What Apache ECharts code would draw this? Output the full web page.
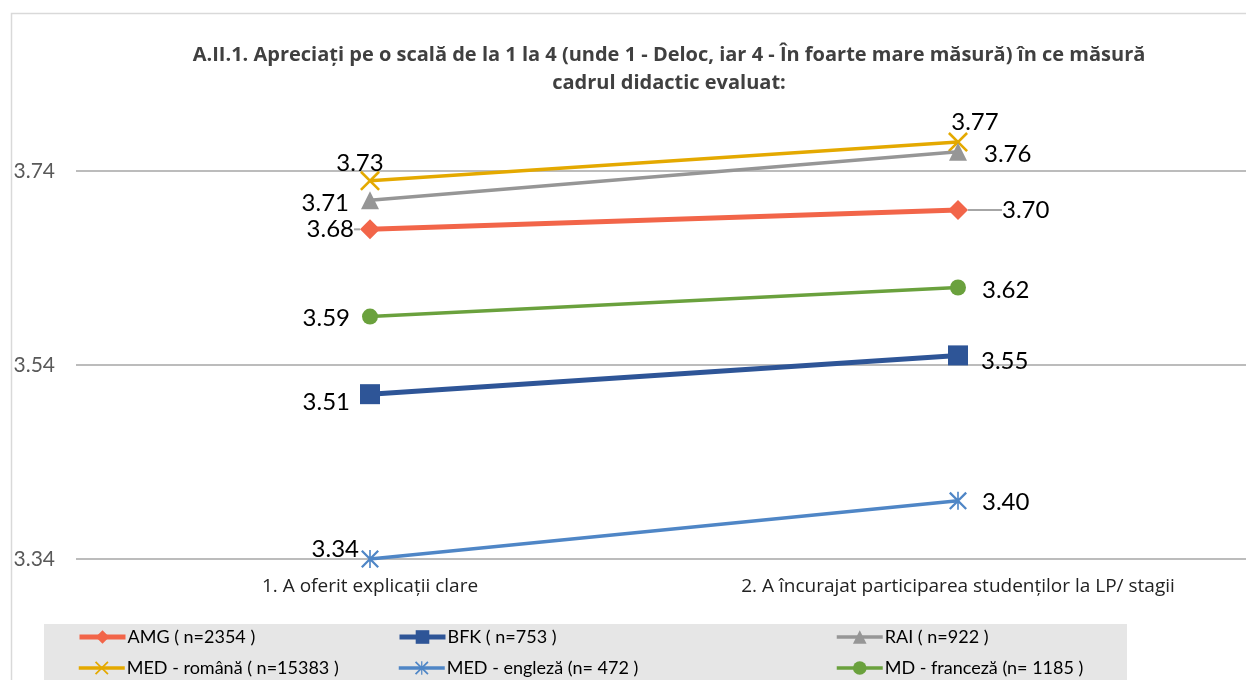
<!DOCTYPE html>
<html>
<head>
<meta charset="utf-8">
<script src="https://cdn.jsdelivr.net/npm/echarts@6/dist/echarts.min.js"></script>
<style>
  html, body { margin: 0; padding: 0; background: #fff; }
  #chart { width: 1246px; height: 680px; }
</style>
</head>
<body>
<div id="chart"></div>
<script>
// categories / values
var categories = ["1. A oferit explicații clare", "2. A încurajat participarea studenților la LP/ stagii"];
var seriesNames = ["AMG ( n=2354 )", "BFK ( n=753 )", "RAI ( n=922 )",
  "MED - română ( n=15383 )", "MED - engleză (n= 472 )", "MD - franceză (n= 1185 )"];
var amgValues = [3.68, 3.70];
var bfkValues = [3.51, 3.55];
var raiValues = [3.71, 3.76];
var medRoValues = [3.73, 3.77];
var medEnValues = [3.34, 3.40];
var mdFrValues = [3.59, 3.62];
var yTicks = [3.34, 3.54, 3.74];

var FONT = "Lato";
var X_PATH = "path://M0,0.9 L0.9,0 L10,9.1 L9.1,10 Z M9.1,0 L10,0.9 L0.9,10 L0,9.1 Z";
var STAR_PATH = "path://M0,0.9 L0.9,0 L10,9.1 L9.1,10 Z M9.1,0 L10,0.9 L0.9,10 L0,9.1 Z M4.55,0 L5.45,0 L5.45,10 L4.55,10 Z";

//label placement for each point (left point, right point)
function lbl(pos, offset, dist) {
  return { position: pos, offset: offset || [0, 0], distance: dist == null ? 5 : dist };
}

var styles = [
  { color: "#f26549", width: 5, symbol: "diamond", size: 20,
    labels: [lbl("left", [0, 6], 6), lbl("right", [0, 3], 8)] },
  { color: "#2e5597", width: 5, symbol: "rect", size: 20,
    labels: [lbl("left", [0, 8], 10), lbl("right", [0, 6], 13)] },
  { color: "#969696", width: 3.5, symbol: "triangle", size: 18,
    labels: [lbl("left", [0, 3], 12), lbl("right", [0, 2], 17)] },
  { color: "#e4a900", width: 3.5, symbol: X_PATH, size: 20,
    labels: [lbl("top", [-10, 6], 2), lbl("top", [17, 4], 2)] },
  { color: "#4f86c6", width: 3.5, symbol: STAR_PATH, size: 18,
    labels: [lbl("left", [0, -10], 2), lbl("right", [0, 1], 15)] },
  { color: "#6aa13d", width: 3.5, symbol: "circle", size: 16,
    labels: [lbl("left", [0, 2], 12), lbl("right", [0, 3], 16)] }
];
var valueLists = [amgValues, bfkValues, raiValues, medRoValues, medEnValues, mdFrValues];

var series = [];
for (var i = 0; i < valueLists.length; i++) {
  var st = styles[i];
  var data = [];
  for (var j = 0; j < valueLists[i].length; j++) {
    data.push({ value: valueLists[i][j], label: st.labels[j] });
  }
  var s = {
    name: seriesNames[i],
    type: "line",
    data: data,
    symbol: st.symbol,
    symbolSize: st.size,
    showSymbol: true,
    itemStyle: { color: st.color },
    lineStyle: { color: st.color, width: st.width },
    label: {
      show: true,
      color: "#000",
      fontFamily: FONT,
      fontSize: 24,
      formatter: function (p) { return p.value.toFixed(2); }
    },
    emphasis: { disabled: true },
    animation: false,
    z: 10 - i
  };
  if (i === 0) {
    // leader line on the right AMG label
    s.labelLine = { show: true, lineStyle: { color: "#a6a6a6", width: 2 } };
    s.labelLayout = function (p) {
      if (p.dataIndex === 1) return { dx: 26 };
      return {};
    };
  }
  series.push(s);
}

// legend in 3 columns x 2 rows, one legend block per entry
var legendLefts = [77, 397, 835];
var legendTops = [628, 659];
var legends = seriesNames.map(function (name, k) {
  return {
    left: legendLefts[k % 3],
    top: legendTops[Math.floor(k / 3)],
    padding: 0,
    itemWidth: 46,
    itemHeight: 17,
    data: [name],
    lineStyle: { width: styles[k].width },
    textStyle: { fontFamily: FONT, fontSize: 18, color: "#000", padding: [0, 0, 0, -3] },
    selectedMode: false
  };
});

var chart = echarts.init(document.getElementById("chart"));
chart.setOption({
  backgroundColor: "#fff",
  title: {
    text: "A.II.1. Apreciați pe o scală de la 1 la 4 (unde 1 - Deloc, iar 4 - În foarte mare măsură) în ce măsură\ncadrul didactic evaluat:",
    left: 664,
    textAlign: "center",
    top: 36,
    textStyle: { fontFamily: "Open Sans", fontSize: 20, fontWeight: "bold", color: "#404040", lineHeight: 28 }
  },
  graphic: [
    { type: "rect", left: 9, top: 11, shape: { width: 1300, height: 700 },
      style: { fill: "none", stroke: "#d9d9d9", lineWidth: 1.5 }, z: -10 },
    { type: "rect", left: 44, top: 624, shape: { width: 1083, height: 70 },
      style: { fill: "#e6e6e6" }, z: -5 }
  ],
  legend: legends,
  grid: { left: 76, width: 1176, top: 113, bottom: 121, outerBoundsMode: "none" },
  xAxis: {
    type: "category",
    data: categories,
    boundaryGap: true,
    axisLine: { show: false },
    axisTick: { show: false },
    axisLabel: { fontFamily: "Open Sans", fontSize: 19, color: "#222", margin: 18 }
  },
  yAxis: {
    type: "value",
    min: yTicks[0],
    max: 3.80,
    interval: 0.2,
    axisLine: { show: false },
    axisTick: { show: false },
    axisLabel: {
      fontFamily: FONT, fontSize: 21, color: "#595959", margin: 21,
      showMaxLabel: false,
      formatter: function (v) { return v.toFixed(2); }
    },
    splitLine: { show: true, showMaxLine: false, lineStyle: { color: "#a6a6a6", width: 1.5 } }
  },
  series: series
});
</script>
</body>
</html>
